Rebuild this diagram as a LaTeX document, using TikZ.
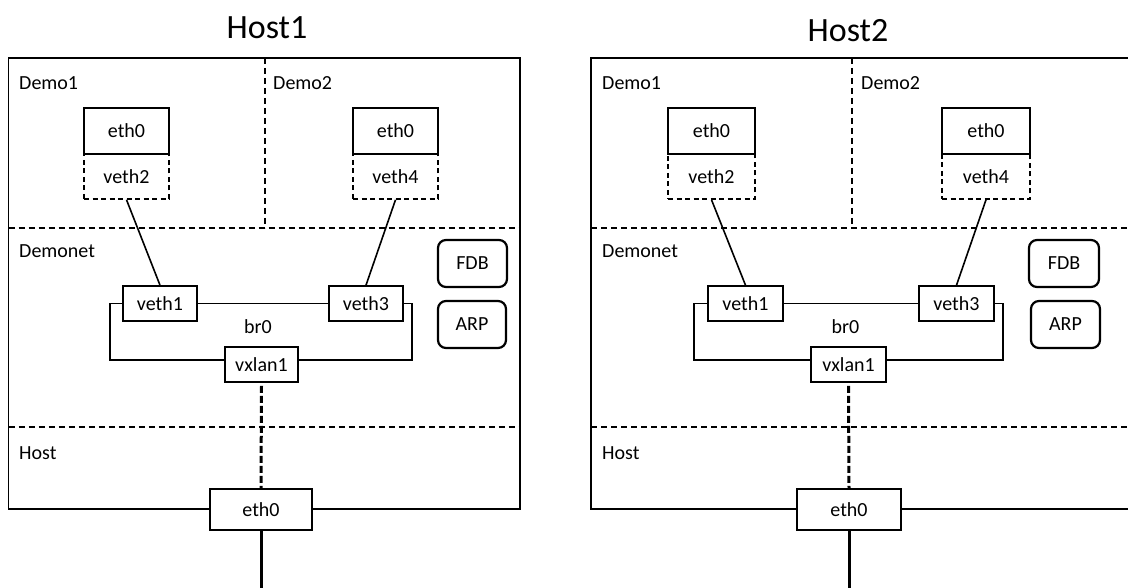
\documentclass[tikz,border=0pt]{standalone}
\usepackage{fontspec}
\setmainfont{Carlito}
\begin{document}
\begin{tikzpicture}[
    x=1pt, y=-1pt,
    every node/.style={font=\fontsize{20}{24}\selectfont, inner sep=0pt},
    title/.style={font=\fontsize{34}{40}\selectfont, anchor=base},
    zone/.style={anchor=base west},
    frame/.style={line width=1.8pt},
    sep/.style={line width=1.6pt, dash pattern=on 6pt off 4pt},
    iface/.style={draw, fill=white, line width=1.6pt, minimum height=46pt},
    peer/.style={draw, line width=1.6pt, dash pattern=on 5pt off 3.5pt, minimum height=45pt},
    port/.style={draw, fill=white, line width=1.6pt, minimum height=35pt},
    tbl/.style={draw, line width=2.2pt, rounded corners=8pt, minimum height=47pt},
    link/.style={line width=1.6pt},
    tunnel/.style={line width=3pt, dash pattern=on 7pt off 3pt},
    wire/.style={line width=3pt}
]
\useasboundingbox (0,0) rectangle (1128,588);
\clip (0,0) rectangle (1128,588);

% Host1
\node[title] (t1) at (267,39) {Host1};
\draw[frame] (8.5,58) rectangle (520,509);
\draw[sep] (265,58) -- (265,228);
\draw[sep] (8.5,228) -- (520,228);
\draw[sep] (8.5,427) -- (520,427);
\node[zone] (d1a) at (19,90) {Demo1};
\node[zone] (d1b) at (273,90) {Demo2};
\node[zone] (d1n) at (19,258) {Demonet};
\node[zone] (d1h) at (19,459) {Host};
% namespaces
\node[peer, minimum width=85pt] (a2) at (126.5,176.5) {veth2};
\node[iface, minimum width=85pt] (ae0) at (126.5,131) {eth0};
\node[peer, minimum width=85pt] (a4) at (395.5,176.5) {veth4};
\node[iface, minimum width=85pt] (be0) at (395.5,131) {eth0};
% bridge
\node[port, minimum width=74pt] (a1) at (160,303.5) {veth1};
\node[port, minimum width=74pt] (a3) at (366,303.5) {veth3};
\node[port, minimum width=73pt] (avx) at (261.5,364.5) {vxlan1};
\node (abr) at (258,327) {br0};
\node[tbl, minimum width=69pt] (afdb) at (472.5,263.5) {FDB};
\node[tbl, minimum width=68pt] (aarp) at (472,324.5) {ARP};
\draw[link] (a1) -- (a3);
\draw[link] (a1.west) -- ++(-12,0) |- ([yshift=4.5pt]avx.west);
\draw[link] (a3.east) -- ++(8,0) |- ([yshift=4.5pt]avx.east);
\draw[link] (a2.south) -- (a1.north);
\draw[link] (a4.south) -- (a3.north);
% host nic
\node[iface, minimum width=102pt, minimum height=41pt] (aeth) at (261,509.5) {eth0};
\coordinate (aout) at (261,590);
\draw[tunnel] ([yshift=-3pt]avx.south) -- (aeth.north);
\draw[wire] (aeth.south) -- (aout);

% Host2
\node[title] (t2) at (848,42) {Host2};
\draw[frame] (591,58) rectangle (1140,509);
\draw[sep] (852,58) -- (852,228);
\draw[sep] (591,228) -- (1140,228);
\draw[sep] (591,427) -- (1140,427);
\node[zone] (d2a) at (602,90) {Demo1};
\node[zone] (d2b) at (861,90) {Demo2};
\node[zone] (d2n) at (602,258) {Demonet};
\node[zone] (d2h) at (602,459) {Host};
% namespaces
\node[peer, minimum width=87pt] (b2) at (711.5,176.5) {veth2};
\node[iface, minimum width=87pt] (ce0) at (711.5,131) {eth0};
\node[peer, minimum width=88pt] (b4) at (986,176.5) {veth4};
\node[iface, minimum width=88pt] (de0) at (986,131) {eth0};
% bridge
\node[port, minimum width=75pt] (b1) at (745.5,303.5) {veth1};
\node[port, minimum width=75pt] (b3) at (956.5,303.5) {veth3};
\node[port, minimum width=75pt] (bvx) at (848.5,364.5) {vxlan1};
\node (bbr) at (845.5,327) {br0};
\node[tbl, minimum width=70pt] (bfdb) at (1064,263.5) {FDB};
\node[tbl, minimum width=69pt] (barp) at (1065.5,324.5) {ARP};
\draw[link] (b1) -- (b3);
\draw[link] (b1.west) -- ++(-13,0) |- ([yshift=4.5pt]bvx.west);
\draw[link] (b3.east) -- ++(8,0) |- ([yshift=4.5pt]bvx.east);
\draw[link] (b2.south) -- (b1.north);
\draw[link] (b4.south) -- (b3.north);
% host nic
\node[iface, minimum width=104pt, minimum height=41pt] (beth) at (849,509.5) {eth0};
\coordinate (bout) at (849,590);
\draw[tunnel] ([yshift=-3pt]bvx.south) -- (beth.north);
\draw[wire] (beth.south) -- (bout);
\end{tikzpicture}
\end{document}
